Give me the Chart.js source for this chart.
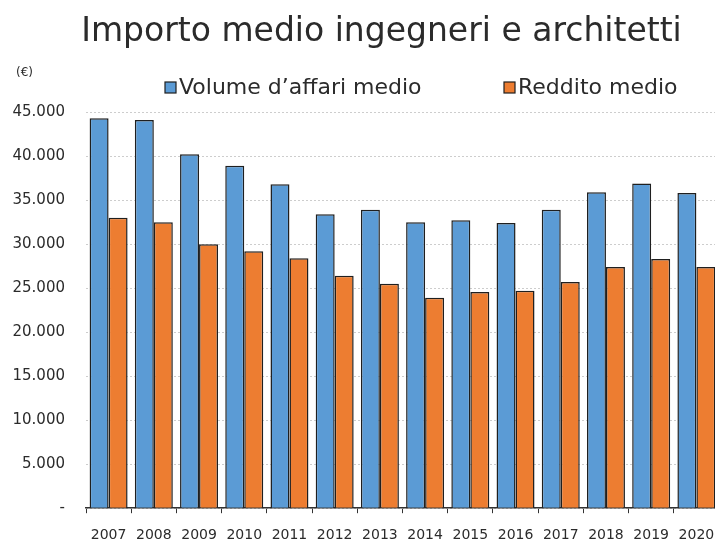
<!DOCTYPE html>
<html>
<head>
<meta charset="utf-8">
<script src="https://cdn.jsdelivr.net/npm/chart.js@4/dist/chart.umd.min.js"></script>
<style>
  html, body { margin: 0; padding: 0; overflow: hidden; background: #fff; }
  canvas { display: block; }
</style>
</head>
<body>
<canvas id="importoChart" width="764" height="558"></canvas>
<script>
// Data
const years = ['2007', '2008', '2009', '2010', '2011', '2012', '2013', '2014', '2015', '2016', '2017', '2018', '2019', '2020'];
const volumeAffari = [44300, 44100, 40200, 38900, 36800, 33400, 33900, 32500, 32700, 32400, 33900, 35900, 36900, 35800];
const redditoMedio = [33000, 32500, 30000, 29200, 28400, 26400, 25500, 23900, 24550, 24700, 25700, 27400, 28300, 27400];
const seriesNames = ['Volume d\u2019affari medio', 'Reddito medio'];
const yTicks = [0, 5000, 10000, 15000, 20000, 25000, 30000, 35000, 40000, 45000];

const textColor = '#2b2b2b';
const fontFamily = '"DejaVu Sans", Verdana, sans-serif';

// Format numbers the Italian way: 45.000, zero shown as "-"
function formatEuro(v) {
    if (v === 0) return '-';
    return String(v).replace(/\B(?=(\d{3})+(?!\d))/g, '.');
}

// Legend and unit label drawn on the canvas, title nudged to the right
const extrasPlugin = {
    id: 'extras',
    afterLayout(chart) {
        chart.titleBlock.left += 22;
        chart.titleBlock.right += 22;
    },
    afterDraw(chart) {
        const ctx = chart.ctx;
        ctx.save();
        const starts = [165, 504];
        chart.data.datasets.forEach((ds, i) => {
            const x = starts[i];
            ctx.fillStyle = ds.backgroundColor;
            ctx.fillRect(x, 82, 11, 11);
            ctx.strokeStyle = '#1f1f1f';
            ctx.lineWidth = 1.2;
            ctx.strokeRect(x, 82, 11, 11);
            ctx.fillStyle = textColor;
            ctx.font = '22px ' + fontFamily;
            ctx.textBaseline = 'middle';
            ctx.textAlign = 'left';
            ctx.fillText(ds.label, x + 14, 88);
        });
        ctx.font = '12px ' + fontFamily;
        ctx.fillStyle = textColor;
        ctx.textBaseline = 'middle';
        ctx.fillText('(\u20ac)', 16, 73);
        ctx.restore();
    }
};

const ctx = document.getElementById('importoChart').getContext('2d');
const importoChart = new Chart(ctx, {
    type: 'bar',
    data: {
        labels: years,
        datasets: [{
            label: seriesNames[0],
            data: volumeAffari,
            backgroundColor: '#5b9bd5',
            borderColor: '#1f1f1f',
            borderWidth: 1.5
        }, {
            label: seriesNames[1],
            data: redditoMedio,
            backgroundColor: '#ed7d31',
            borderColor: '#1f1f1f',
            borderWidth: 1.5
        }]
    },
    options: {
        responsive: false,
        animation: false,
        layout: { padding: { left: 0, right: 45, top: 0, bottom: 0 } },
        datasets: {
            bar: { categoryPercentage: 0.84, barPercentage: 1.0 }
        },
        plugins: {
            legend: { display: false },
            tooltip: { enabled: false },
            title: {
                display: true,
                text: 'Importo medio ingegneri e architetti',
                color: textColor,
                font: { family: fontFamily, size: 33, weight: 'normal' },
                padding: { top: 12.5, bottom: 60 }
            }
        },
        scales: {
            x: {
                grid: {
                    offset: true,
                    drawOnChartArea: false,
                    drawTicks: true,
                    tickLength: 5,
                    color: '#333'
                },
                border: { display: true, color: '#333', width: 1.5 },
                ticks: {
                    color: textColor,
                    padding: 14,
                    maxRotation: 0,
                    autoSkip: false,
                    font: { family: fontFamily, size: 14 }
                }
            },
            y: {
                min: 0,
                max: 45000,
                afterFit: (scale) => { scale.width = 86; },
                afterBuildTicks: (scale) => { scale.ticks = yTicks.map(v => ({ value: v })); },
                grid: {
                    drawTicks: false,
                    color: '#cdcdcd'
                },
                border: { display: false, dash: [2, 2] },
                ticks: {
                    color: textColor,
                    padding: 21,
                    font: { family: fontFamily, size: 15 },
                    callback: (v) => formatEuro(v)
                }
            }
        }
    },
    plugins: [extrasPlugin]
});
</script>
</body>
</html>
